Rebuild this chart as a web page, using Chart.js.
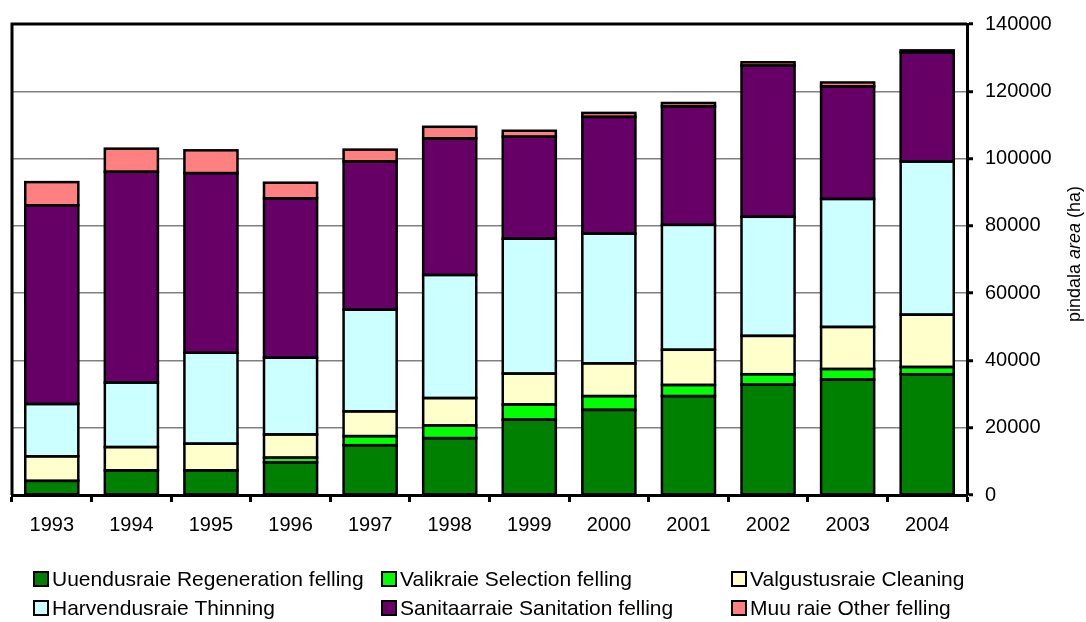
<!DOCTYPE html>
<html>
<head>
<meta charset="utf-8">
<script src="https://cdn.jsdelivr.net/npm/chart.js@4/dist/chart.umd.min.js"></script>
<style>
  html, body { margin: 0; padding: 0; background: #fff; }
  #wrap { width: 1086px; height: 622px; position: relative; }
</style>
</head>
<body>
<div id="wrap"><canvas id="felling"></canvas></div>
<script>
'use strict';

/* global Chart */

// --- data (ha) ---
var years = ['1993', '1994', '1995', '1996', '1997', '1998', '1999', '2000', '2001', '2002', '2003', '2004'];
var regeneration = [4200, 7300, 7300, 9700, 14800, 16900, 22400, 25300, 29400, 32800, 34300, 35900];
var selection = [null, null, null, 1400, 2700, 3750, 4500, 4100, 3300, 3100, 3150, 2150];
var cleaning = [7300, 6950, 7950, 6900, 7370, 8170, 9190, 9740, 10470, 11400, 12500, 15550];
var thinning = [15550, 19180, 27030, 22800, 30200, 36580, 40110, 38560, 37130, 35400, 38050, 45520];
var sanitation = [59050, 62650, 53390, 47400, 44050, 40600, 30300, 34700, 35240, 44940, 33440, 32450];
var other = [6900, 6870, 6780, 4630, 3540, 3450, 1770, 1175, 985, 980, 1180, 590];

var yTicks = [0, 20000, 40000, 60000, 80000, 100000, 120000, 140000];

var seriesLabels = [
  'Uuendusraie Regeneration felling',
  'Valikraie Selection felling',
  'Valgustusraie Cleaning',
  'Harvendusraie Thinning',
  'Sanitaarraie Sanitation felling',
  'Muu raie Other felling'
];
var seriesColors = ['#008000', '#00ff00', '#ffffcc', '#ccffff', '#660066', '#ff8080'];
var seriesData = [regeneration, selection, cleaning, thinning, sanitation, other];

var FONT = "'Liberation Sans', Arial, sans-serif";

function makeDataset(i) {
  return {
    label: seriesLabels[i],
    data: seriesData[i],
    backgroundColor: seriesColors[i],
    borderWidth: 0,
    inflateAmount: 0,
    barPercentage: 0.667,
    categoryPercentage: 1.0
  };
}

// even black outline on every bar segment (Excel style)
var outlinePlugin = {
  id: 'segmentOutline',
  afterDatasetsDraw: function (chart) {
    var ctx = chart.ctx;
    ctx.save();
    ctx.strokeStyle = '#000';
    ctx.lineWidth = 2.5;
    chart.data.datasets.forEach(function (ds, di) {
      var meta = chart.getDatasetMeta(di);
      meta.data.forEach(function (bar, i) {
        if (ds.data[i] == null) return;
        var p = bar.getProps(['x', 'y', 'base', 'width'], true);
        var top = Math.min(p.y, p.base);
        ctx.strokeRect(p.x - p.width / 2, top, p.width, Math.abs(p.base - p.y));
      });
    });
    ctx.restore();
  }
};

// thick frame on top and left of the plot area
var framePlugin = {
  id: 'frame',
  afterDatasetsDraw: function (chart) {
    var ctx = chart.ctx;
    var a = chart.chartArea;
    ctx.save();
    ctx.strokeStyle = '#000';
    ctx.lineWidth = 3;
    ctx.beginPath();
    ctx.moveTo(a.left, a.bottom);
    ctx.lineTo(a.left, a.top);
    ctx.lineTo(a.right, a.top);
    ctx.stroke();
    ctx.restore();
  }
};

// rotated axis title, "area" in italics
var titlePlugin = {
  id: 'axisTitle',
  afterDraw: function (chart) {
    var ctx = chart.ctx;
    var parts = [['pindala ', ''], ['area', 'italic '], [' (ha)', '']];
    var size = 18;
    var total = 0;
    ctx.save();
    parts.forEach(function (p) {
      ctx.font = p[1] + size + 'px ' + FONT;
      total += ctx.measureText(p[0]).width;
    });
    ctx.translate(1075, 254);
    ctx.rotate(-Math.PI / 2);
    ctx.fillStyle = '#000';
    ctx.textBaseline = 'middle';
    ctx.textAlign = 'left';
    var x = -total / 2;
    parts.forEach(function (p) {
      ctx.font = p[1] + size + 'px ' + FONT;
      ctx.fillText(p[0], x, 0);
      x += ctx.measureText(p[0]).width;
    });
    ctx.restore();
  }
};

// legend in three columns, two rows
var legendPlugin = {
  id: 'gridLegend',
  afterDraw: function (chart) {
    var ctx = chart.ctx;
    var colX = [34, 382, 732];
    var rowY = [579, 608];
    ctx.save();
    ctx.font = '21px ' + FONT;
    ctx.textBaseline = 'middle';
    ctx.textAlign = 'left';
    for (var i = 0; i < seriesLabels.length; i++) {
      var x = colX[i % 3];
      var y = rowY[Math.floor(i / 3)];
      ctx.fillStyle = seriesColors[i];
      ctx.fillRect(x, y - 7, 14, 14);
      ctx.strokeStyle = '#000';
      ctx.lineWidth = 2;
      ctx.strokeRect(x, y - 7, 14, 14);
      ctx.fillStyle = '#000';
      ctx.fillText(seriesLabels[i], x + 18, y + 1);
    }
    ctx.restore();
  }
};

new Chart(document.getElementById('felling'), {
  type: 'bar',
  data: {
    labels: years,
    datasets: seriesData.map(function (d, i) { return makeDataset(i); })
  },
  options: {
    responsive: true,
    maintainAspectRatio: false,
    animation: false,
    layout: { padding: { left: 12, top: 20, right: 0, bottom: 0 } },
    plugins: {
      legend: { display: false },
      tooltip: { enabled: false }
    },
    scales: {
      x: {
        stacked: true,
        offset: true,
        grid: {
          display: true,
          offset: true,
          drawOnChartArea: false,
          drawTicks: true,
          tickLength: 7,
          tickColor: '#000',
          tickWidth: 3
        },
        border: { display: true, color: '#000', width: 3 },
        ticks: {
          color: '#000',
          padding: 11,
          maxRotation: 0,
          font: { family: FONT, size: 20 }
        },
        afterFit: function (scale) { scale.height = 127; }
      },
      y: {
        stacked: true,
        position: 'right',
        min: 0,
        max: 140000,
        afterBuildTicks: function (scale) {
          scale.ticks = yTicks.map(function (v) { return { value: v }; });
        },
        grid: {
          color: '#808080',
          lineWidth: 1.5,
          drawTicks: true,
          tickLength: 6,
          tickColor: '#000',
          tickWidth: 3
        },
        border: { display: true, color: '#000', width: 3 },
        ticks: {
          color: '#000',
          padding: 12,
          font: { family: FONT, size: 20 },
          callback: function (v) { return String(v); }
        },
        afterFit: function (scale) { scale.width = 119; }
      }
    }
  },
  plugins: [outlinePlugin, framePlugin, titlePlugin, legendPlugin]
});
</script>
</body>
</html>
